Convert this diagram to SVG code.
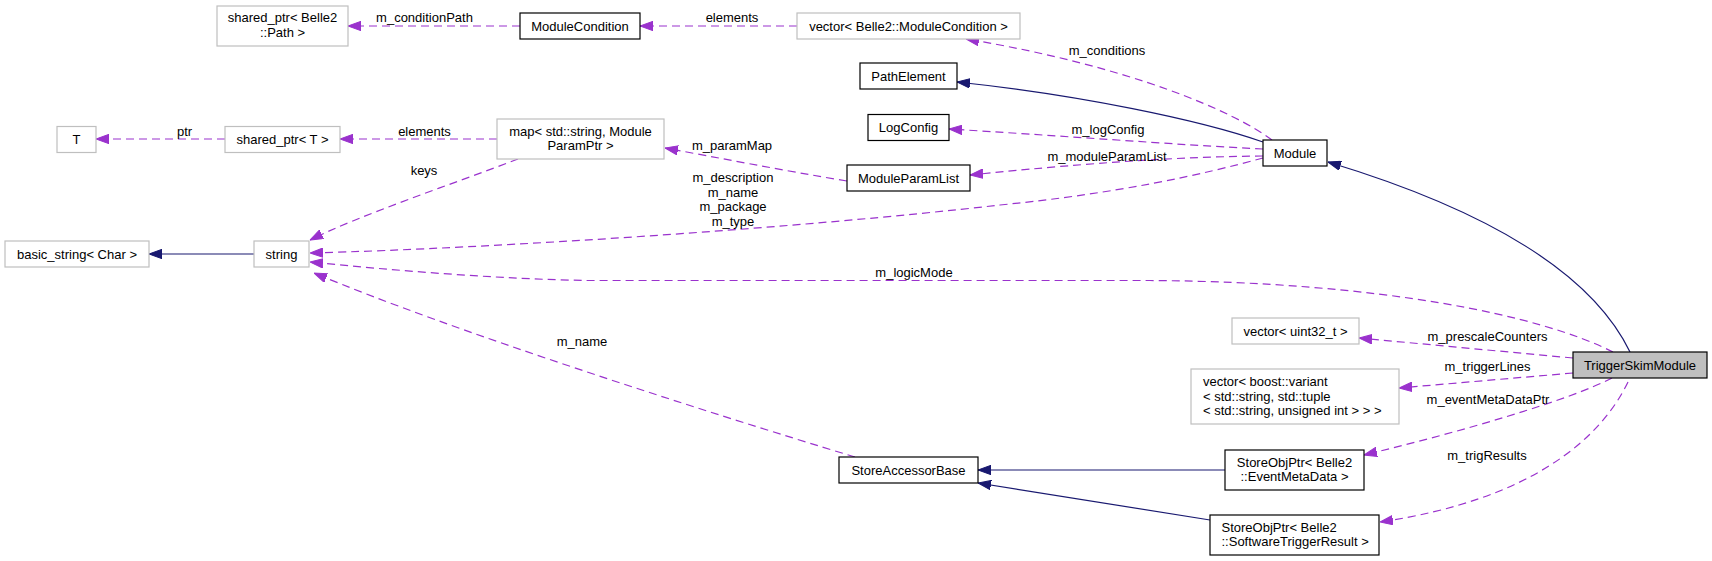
<svg xmlns="http://www.w3.org/2000/svg" width="1712" height="561" viewBox="0 0 1712 561">
<style>
text{font-family:"Liberation Sans",Arial,Helvetica,sans-serif;font-size:13px;fill:#000}
.n rect{fill:#fff;stroke:#000;stroke-width:1.2}
.g rect{fill:#fff;stroke:#bfbfbf;stroke-width:1.2}
.c{text-anchor:middle}
.u{fill:none;stroke:#9a32cd;stroke-width:1.2;stroke-dasharray:8,5}
.i{fill:none;stroke:#191970;stroke-width:1.2}
</style>
<defs>
<marker id="ap" viewBox="0 0 13 10" refX="13" refY="5" markerWidth="13" markerHeight="10" orient="auto" markerUnits="userSpaceOnUse"><path d="M0,0.3 L13,5 L0,9.7 z" fill="#9a32cd" stroke="#9a32cd" stroke-width="1"/></marker>
<marker id="ai" viewBox="0 0 13 10" refX="13" refY="5" markerWidth="13" markerHeight="10" orient="auto" markerUnits="userSpaceOnUse"><path d="M0,0.3 L13,5 L0,9.7 z" fill="#191970" stroke="#191970" stroke-width="1"/></marker>
</defs>
<rect width="1712" height="561" fill="#fff"/>

<g id="edges">
<path class="u" d="M520,26 L348,26" marker-end="url(#ap)"/>
<text class="c" x="424.5" y="21.5">m_conditionPath</text>
<path class="u" d="M797,26 L640,26" marker-end="url(#ap)"/>
<text class="c" x="732" y="21.5">elements</text>
<path class="u" d="M1272,140 C1235,112 1130,66 966,39" marker-end="url(#ap)"/>
<text class="c" x="1107" y="54.5">m_conditions</text>
<path class="i" d="M1263,142 C1200,120 1080,95 957,82" marker-end="url(#ai)"/>
<path class="u" d="M1263,149 C1180,145 1050,135 949,129" marker-end="url(#ap)"/>
<text class="c" x="1108" y="133.5">m_logConfig</text>
<path class="u" d="M1263,156 C1150,157 1040,168 970,175" marker-end="url(#ap)"/>
<text class="c" x="1107" y="161">m_moduleParamList</text>
<path class="u" d="M1263,158 C1200,175 1120,193 1000,205 C800,228 500,248 310,253" marker-end="url(#ap)"/>
<text class="c" x="733" y="182">m_description</text>
<text class="c" x="733" y="196.5">m_name</text>
<text class="c" x="733" y="211">m_package</text>
<text class="c" x="733" y="225.5">m_type</text>
<path class="u" d="M1613,352 C1540,315 1380,282 1150,280.5 L587,280.5 C500,279 400,271 310,262" marker-end="url(#ap)"/>
<text class="c" x="914" y="277">m_logicMode</text>
<path class="u" d="M855,457 C700,410 450,330 314,273" marker-end="url(#ap)"/>
<text class="c" x="582" y="345.5">m_name</text>
<path class="u" d="M518,159 C450,185 360,215 310,240" marker-end="url(#ap)"/>
<text class="c" x="424" y="174.5">keys</text>
<path class="u" d="M225,139 L96,139" marker-end="url(#ap)"/>
<text class="c" x="184.5" y="136">ptr</text>
<path class="u" d="M497,139 L340,139" marker-end="url(#ap)"/>
<text class="c" x="424.5" y="135.5">elements</text>
<path class="u" d="M847,181 C780,170 720,158 665,148" marker-end="url(#ap)"/>
<text class="c" x="732" y="150">m_paramMap</text>
<path class="i" d="M254,254 L149,254" marker-end="url(#ai)"/>
<path class="i" d="M1630,352 C1600,290 1520,220 1328,162" marker-end="url(#ai)"/>
<path class="u" d="M1573,358 L1359,338" marker-end="url(#ap)"/>
<text class="c" x="1487.5" y="341">m_prescaleCounters</text>
<path class="u" d="M1573,373 L1399,388" marker-end="url(#ap)"/>
<text class="c" x="1487.5" y="371">m_triggerLines</text>
<path class="u" d="M1612,378 C1570,400 1460,432 1364,455" marker-end="url(#ap)"/>
<text class="c" x="1488" y="403.5">m_eventMetaDataPtr</text>
<path class="u" d="M1628,382 C1600,440 1530,500 1380,522" marker-end="url(#ap)"/>
<text class="c" x="1487" y="459.5">m_trigResults</text>
<path class="i" d="M1225,470 L978,470" marker-end="url(#ai)"/>
<path class="i" d="M1210,520 L978,483" marker-end="url(#ai)"/>
</g>

<g id="node-sharedptr-path" class="g"><rect x="217" y="6" width="131" height="40"/><text class="c" x="282.5" y="22">shared_ptr&lt; Belle2</text><text class="c" x="282.5" y="36.5">::Path &gt;</text></g>
<g id="node-modulecondition" class="n"><rect x="520" y="13" width="120" height="26"/><text class="c" x="580" y="30.5">ModuleCondition</text></g>
<g id="node-vector-modulecondition" class="g"><rect x="797" y="13" width="223" height="26"/><text class="c" x="908.5" y="30.5">vector&lt; Belle2::ModuleCondition &gt;</text></g>
<g id="node-pathelement" class="n"><rect x="860" y="63" width="97" height="26"/><text class="c" x="908.5" y="80.5">PathElement</text></g>
<g id="node-logconfig" class="n"><rect x="868" y="114.5" width="81" height="26"/><text class="c" x="908.5" y="132">LogConfig</text></g>
<g id="node-module" class="n"><rect x="1263" y="140" width="64" height="26"/><text class="c" x="1295" y="157.5">Module</text></g>
<g id="node-T" class="g"><rect x="57" y="126.5" width="39" height="26"/><text class="c" x="76.5" y="144">T</text></g>
<g id="node-sharedptr-T" class="g"><rect x="225" y="126.5" width="115" height="26"/><text class="c" x="282.5" y="144">shared_ptr&lt; T &gt;</text></g>
<g id="node-map" class="g"><rect x="497" y="119" width="167" height="40"/><text class="c" x="580.5" y="135.5">map&lt; std::string, Module</text><text class="c" x="580.5" y="150">ParamPtr &gt;</text></g>
<g id="node-moduleparamlist" class="n"><rect x="847" y="165" width="123" height="26"/><text class="c" x="908.5" y="182.5">ModuleParamList</text></g>
<g id="node-basic-string" class="g"><rect x="5" y="241" width="144" height="26"/><text class="c" x="77" y="258.5">basic_string&lt; Char &gt;</text></g>
<g id="node-string" class="g"><rect x="254" y="241" width="55" height="26"/><text class="c" x="281.5" y="258.5">string</text></g>
<g id="node-vector-uint32" class="g"><rect x="1232" y="318" width="127" height="26"/><text class="c" x="1295.5" y="335.5">vector&lt; uint32_t &gt;</text></g>
<g id="node-triggerskimmodule"><rect x="1573" y="352" width="134" height="26" fill="#bfbfbf" stroke="#000" stroke-width="1.2"/><text class="c" x="1640" y="369.5">TriggerSkimModule</text></g>
<g id="node-vector-variant" class="g"><rect x="1191" y="369" width="208" height="55"/><text x="1203" y="386">vector&lt; boost::variant</text><text x="1203" y="400.5">&lt; std::string, std::tuple</text><text x="1203" y="415">&lt; std::string, unsigned int &gt; &gt; &gt;</text></g>
<g id="node-storeobjptr-emd" class="n"><rect x="1225" y="450" width="139" height="40"/><text class="c" x="1294.5" y="466.5">StoreObjPtr&lt; Belle2</text><text class="c" x="1294.5" y="481">::EventMetaData &gt;</text></g>
<g id="node-storeobjptr-str" class="n"><rect x="1210" y="515" width="169" height="40"/><text x="1221.5" y="531.5">StoreObjPtr&lt; Belle2</text><text x="1221.5" y="546">::SoftwareTriggerResult &gt;</text></g>
<g id="node-storeaccessorbase" class="n"><rect x="839" y="457" width="139" height="26"/><text class="c" x="908.5" y="474.5">StoreAccessorBase</text></g>
</svg>
